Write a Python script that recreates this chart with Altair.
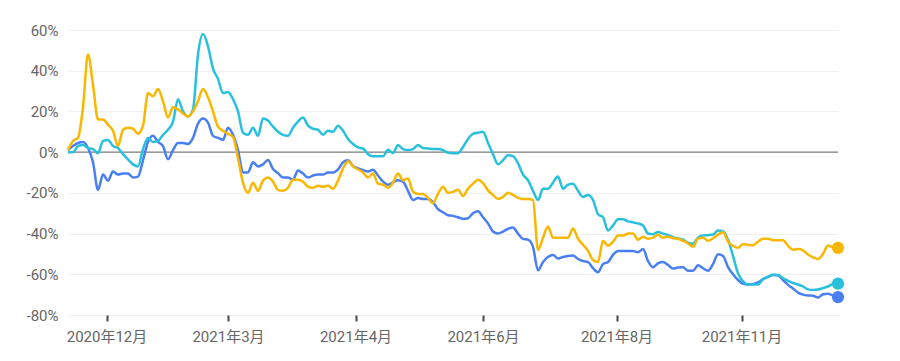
import altair as alt
import pandas as pd

# values in percent, one sample per trading-day step
yellow = [1, 5.5, 7, 22, 48, 33, 16, 16, 13.5, 10.5, 3, 11, 12, 11.5, 9, 13, 29, 27.5, 31, 25,
          17, 22, 21, 19, 17.5, 20, 25, 31, 27, 20, 12.5, 10.5, 9, 7.5, -3, -15, -20, -15, -19,
          -14, -12.5, -14.5, -18.5, -19, -17.5, -13.5, -13.5, -14.5, -17, -17.5, -16.5, -17, -16.5,
          -18, -14, -8, -4.5, -7, -8.5, -10, -12.5, -10.5, -15.5, -16, -17.5, -15, -10.5, -13.8, -13,
          -19.5, -20.5, -20.5, -22.5, -25, -20.5, -17, -20,
          -19.5, -18.5, -21.5, -18, -15.5, -13.5, -15.2, -18.8, -21, -23, -22, -20, -21, -22.5, -23,
          -23, -23.5, -48, -42, -36.5, -42, -42, -42, -42, -37.5, -42.5, -45.5, -48.5, -53, -54,
          -43.5, -46, -44, -41, -41, -40, -40, -43,
          -41.6, -42.5, -42, -40.6, -42, -41.5, -42.3, -42.5, -43.6, -44.8, -46.5, -42.5, -42, -43.5,
          -42.3, -40.5, -39.3, -44, -46, -47, -45.2, -45.5, -45.7, -44, -42.5, -42.5, -43.3, -43.3,
          -43.3, -46, -48, -47.6, -48.2, -50.3, -51.7, -52.5, -50, -45.8, -46.8, -47]
cyan = [0, 0, 3, 3.5, 2, 1.5, -0.5, 5.5, 6, 3, 2, -1, -3.5, -6, -7, 1.5, 7, 5, 5.5, 8.5, 11, 15,
        26, 20, 17.5, 21, 48, 58, 52, 41, 36, 29, 29.5, 26, 20, 9.5, 8.5, 12, 8,
        16.5, 15.5, 12.5, 10, 8.5, 8, 12, 15, 17, 13, 11.5, 11, 8.5, 10.5, 10, 13, 10.5, 6.5, 4,
        2.3, 1.8, -1, -2, -2, -2, 1.2, -0.5, 3.5, 1.5, 1, 1.5, 3.5, 2, 1.8, 1.5, 1.5, 1, -0.3,
        -0.5, -0.5, 2.5, 6.5, 9, 9.5, 10, 4.5, -1, -6, -4, -1.5, -2, -5.5, -11, -13.8, -19, -23.5,
        -18, -18, -15, -12, -18, -16, -15.5, -19, -22, -21, -23.5, -30.5, -32, -38.5, -36, -33,
        -33, -34, -34.5, -35,
        -36, -40, -40.3, -39.2, -40, -40.7, -41.8, -42.4, -43, -44.5, -45, -42, -41, -40.8, -40.5,
        -38.5, -38.8, -43, -51, -59.5, -63.5, -65, -65, -65, -62.5, -61.2, -60.2, -60.3, -62,
        -63.2, -64.3, -65, -66, -67.4, -67.7, -67.5, -66.8, -66, -64.8, -64.6]
blue = [1, 3, 4.5, 5, 2, -5, -18.5, -11, -14, -9.5, -11, -10.5, -10.5, -12.5, -12, -4, 5, 8, 5, 3,
        -3.5, 1, 4.5, 4.5, 4, 7, 14, 16.5, 14.5, 8, 7, 6, 12, 8.5, 1, -10, -10, -5, -7,
        -6, -3.8, -8.3, -10.3, -12.5, -12.5, -13.5, -9, -10.5, -12.5, -11.5, -11, -11, -10, -10,
        -8.5, -5, -4, -6.8, -8, -8.8, -9.5, -8.6, -11.5, -14.5, -16, -14.8, -13.8, -14.5, -19,
        -23.5, -22.5, -23, -23, -24.5, -28, -29.5, -31,
        -31.3, -32, -32.8, -32.5, -30, -29, -32, -35, -39, -40, -39, -37.7, -37, -40, -42.6, -43,
        -46.5, -58, -54, -51.5, -50.5, -52.3, -51.5, -51, -50.8, -52.5, -53.5, -54, -57, -59, -55,
        -54, -50.5, -48.5, -48.5, -48.5, -48.5, -49.2,
        -47.6, -53.5, -56.5, -54.6, -54, -55.4, -57.2, -56.7, -56.5, -58.3, -58.3, -55.6, -57,
        -58.3, -55, -50.2, -51, -56.5, -60, -62.8, -64.6, -65, -64.8, -64, -62.4, -61.3, -60.3,
        -60.5, -62.8, -65.2, -67, -69, -70, -70.4, -70.5, -71.4, -69.8, -69.5, -70.5, -71.2]

tick_pos = [7.7, 32, 57.5, 83, 109.7, 134.7]
tick_labels = ["2020年12月", "2021年3月", "2021年4月", "2021年6月", "2021年8月", "2021年11月"]
y_ticks = [-80, -60, -40, -20, 0, 20, 40, 60]

series = [("blue", blue, "#4a7ff3"), ("cyan", cyan, "#28c0dc"), ("yellow", yellow, "#fab700")]
n = len(yellow)
FONT = "Roboto, 'Noto Sans CJK SC', sans-serif"

label_expr = " : ".join(
    f"abs(datum.value - {p}) < 0.01 ? '{l}'" for p, l in zip(tick_pos, tick_labels)
) + " : ''"

xscale = alt.Scale(domain=[0, n - 1], nice=False, zero=False)
yscale = alt.Scale(domain=[-80, 60], nice=False, zero=False)

x_axis = alt.Axis(values=tick_pos, labelExpr=label_expr, title=None, grid=False, domain=False,
                  ticks=True, tickSize=6, tickWidth=2, tickColor="#444444", labelFontSize=15,
                  labelColor="#666666", labelPadding=8, labelFont=FONT)
y_axis = alt.Axis(values=y_ticks, labelExpr="datum.value + '%'", title=None, grid=True,
                  gridColor="#f0f0f0", gridWidth=1, domain=False, ticks=False, labelPadding=10,
                  labelFontSize=15, labelColor="#666666", labelFont=FONT)

base = alt.Chart(pd.DataFrame({"idx": [0], "value": [0]})).mark_rule(
    color="#7f7f7f", strokeWidth=1.2
).encode(
    y=alt.Y("value:Q", scale=yscale, axis=y_axis),
)

layers = [base]
for name, vals, col in series:
    df = pd.DataFrame({"idx": list(range(n)), "value": vals})
    line = alt.Chart(df).mark_line(color=col, strokeWidth=2.5, interpolate="monotone").encode(
        x=alt.X("idx:Q", scale=xscale, axis=x_axis),
        y=alt.Y("value:Q", scale=yscale, axis=y_axis),
    )
    dot = alt.Chart(df.tail(1)).mark_circle(color=col, size=150, opacity=1).encode(
        x=alt.X("idx:Q", scale=xscale, axis=x_axis),
        y=alt.Y("value:Q", scale=yscale, axis=y_axis),
    )
    layers += [line, dot]

chart = alt.layer(*layers).properties(
    width=770, height=285,
    background="white",
    autosize=alt.AutoSizeParams(type="none"),
    padding={"left": 60, "top": 22, "right": 30, "bottom": 40},
).configure_view(strokeWidth=0, stroke="transparent")

chart.save("out.html", embed_options={"renderer": "svg", "actions": False})
